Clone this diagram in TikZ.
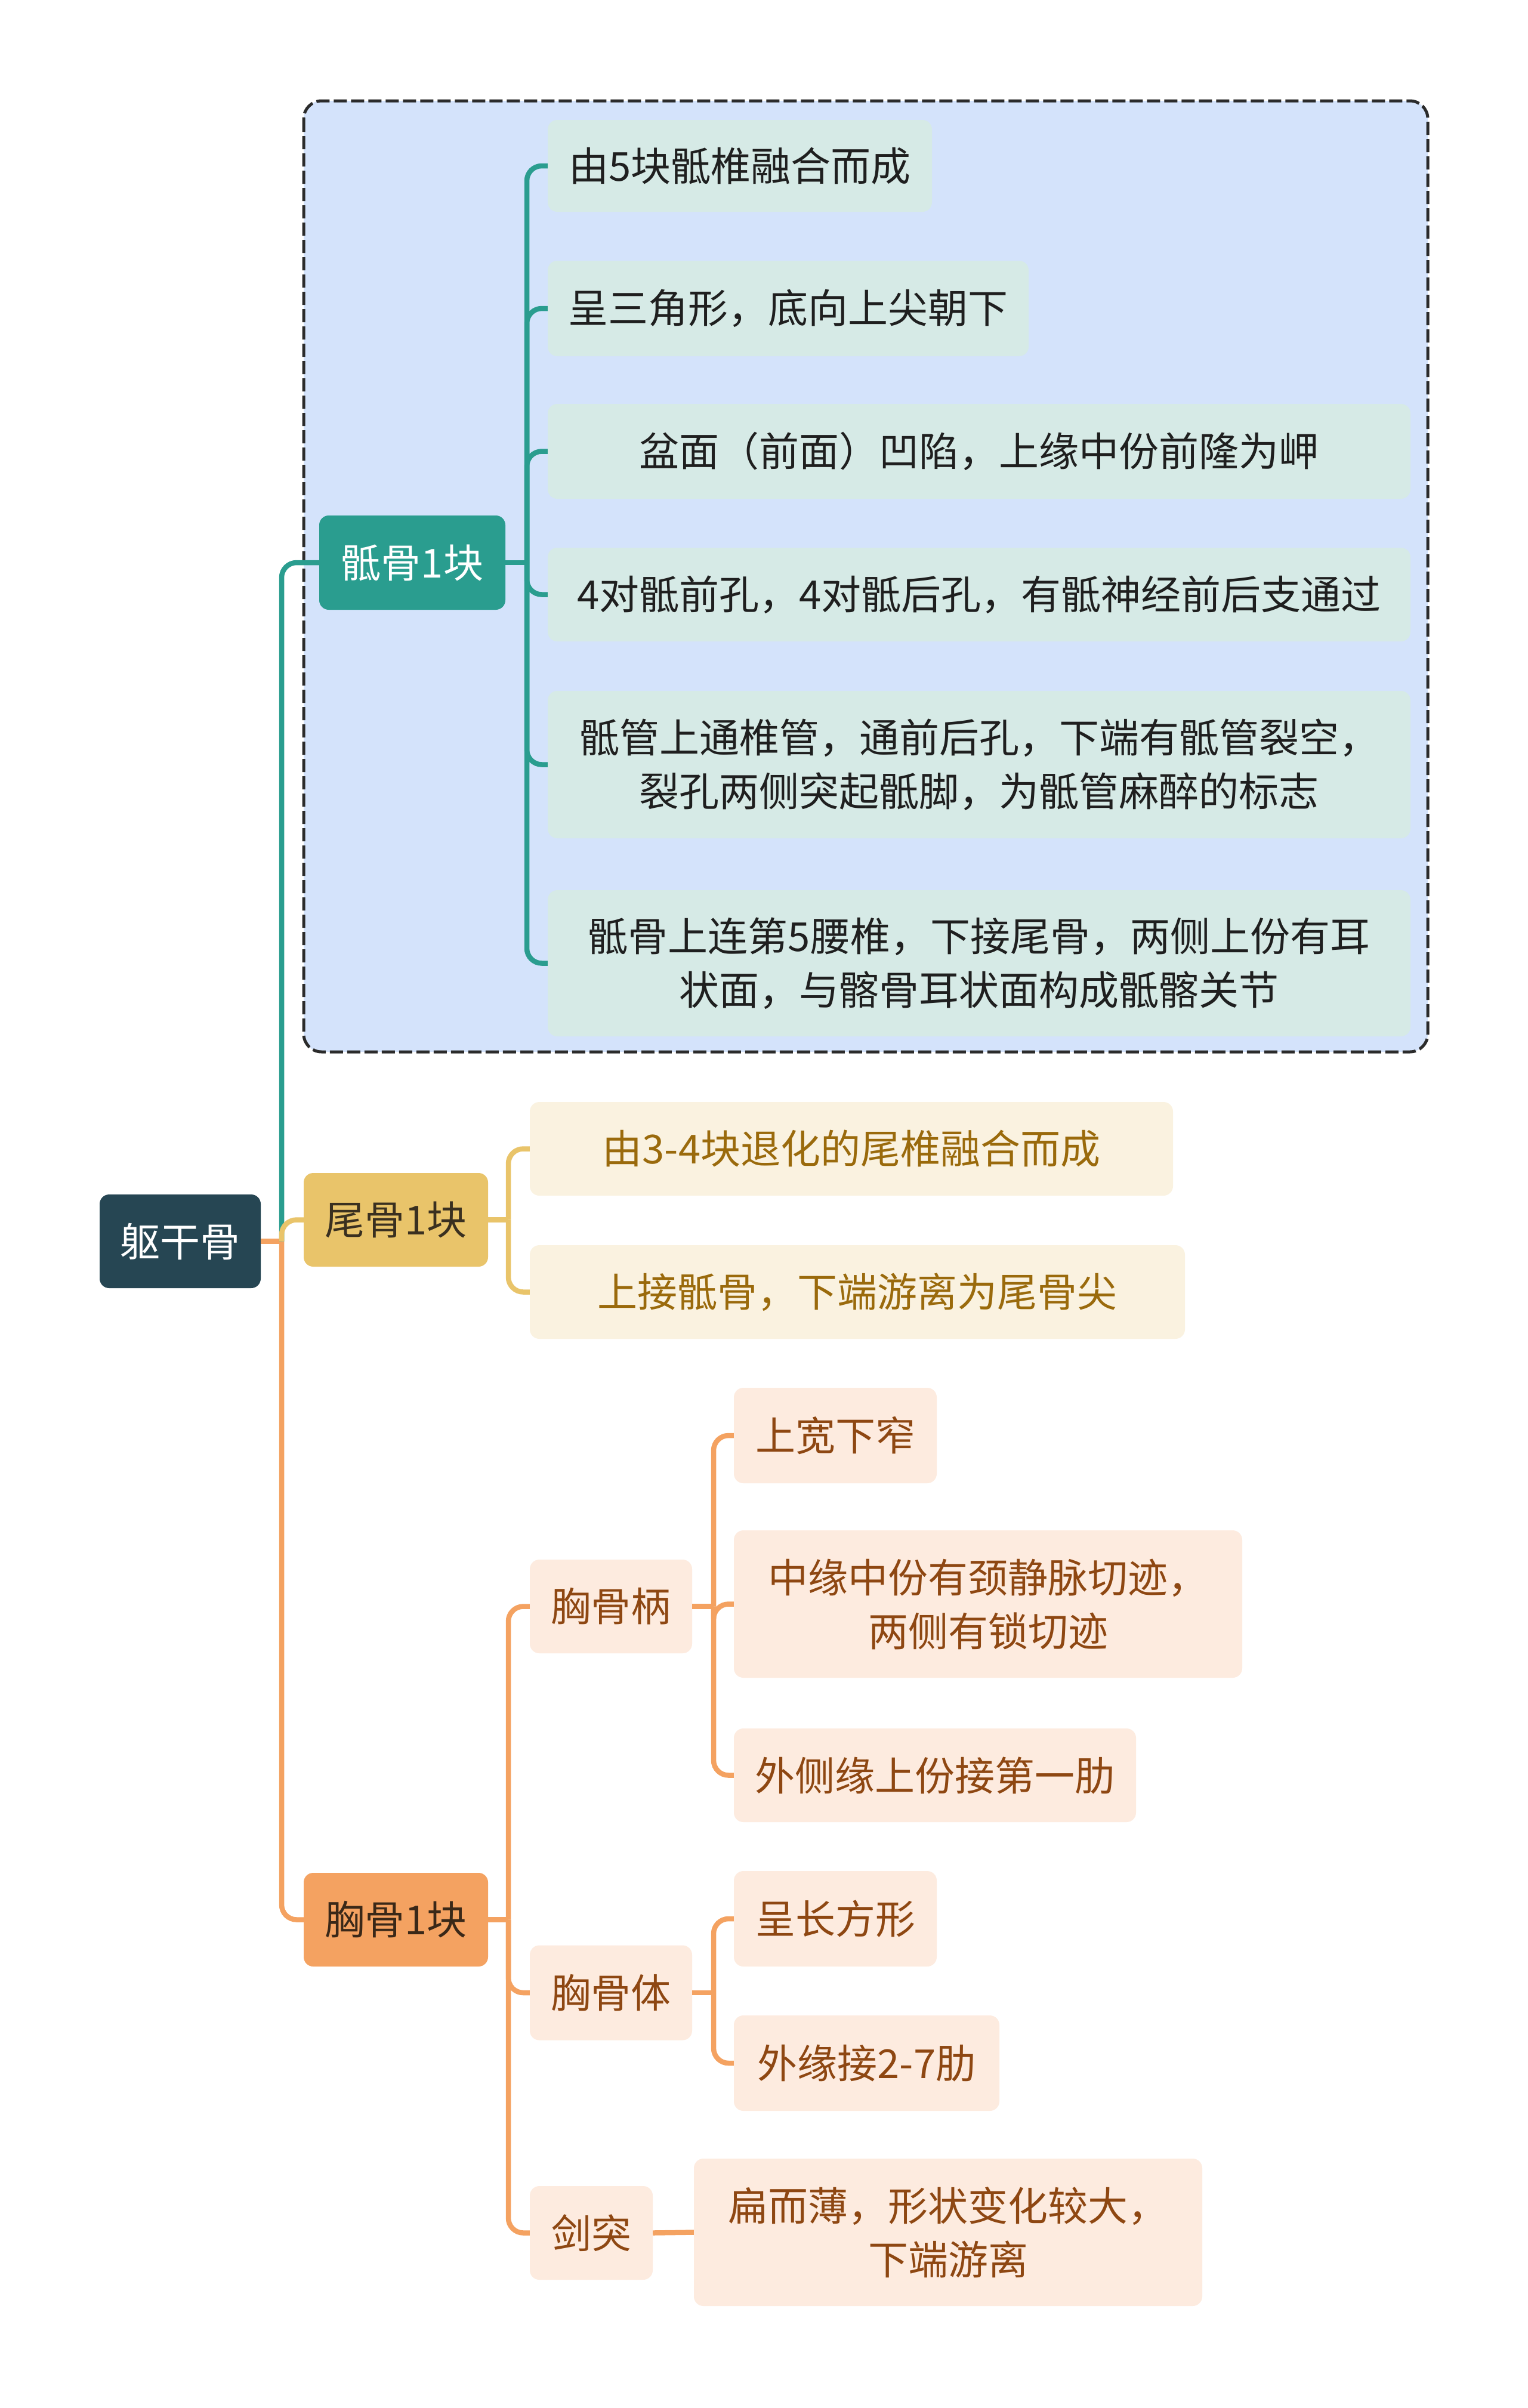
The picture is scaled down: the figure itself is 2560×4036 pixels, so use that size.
\documentclass[tikz,border=0pt]{standalone}
\usepackage{fontspec}
\setmainfont{Noto Sans CJK SC}
\newcommand\myfsz{\fontsize{67}{90}\selectfont}
\definecolor{rootc}{HTML}{264653}
\definecolor{teal1}{HTML}{2A9D8F}
\definecolor{yel}{HTML}{E9C46A}
\definecolor{ora}{HTML}{F4A261}
\definecolor{grpfill}{HTML}{D4E3FB}
\definecolor{grpline}{HTML}{2B2B2B}
\definecolor{sleafc}{HTML}{D6EAE6}
\definecolor{cleafc}{HTML}{FAF2E0}
\definecolor{oleafc}{HTML}{FDEBDF}
\definecolor{ctext}{HTML}{9A6A0C}
\definecolor{otext}{HTML}{8E4712}
\definecolor{cocdark}{HTML}{3A3020}
\definecolor{stedark}{HTML}{3A2818}
\tikzset{
  nb/.style={rounded corners=16pt, inner sep=0pt, align=center, font=\myfsz},
  sz/.style 2 args={minimum width=#1pt, minimum height=#2pt},
  rootn/.style={nb, fill=rootc, text=white},
  sacn/.style={nb, fill=teal1, text=white},
  cocn/.style={nb, fill=yel, text=cocdark},
  sten/.style={nb, fill=ora, text=stedark},
  sleaf/.style={nb, fill=sleafc, text=black!88},
  cleaf/.style={nb, fill=cleafc, text=ctext},
  oleaf/.style={nb, fill=oleafc, text=otext},
  lt/.style={draw=teal1, line width=8.5pt, rounded corners=25pt},
  ly/.style={draw=yel, line width=8.5pt, rounded corners=25pt},
  lo/.style={draw=ora, line width=8.5pt, rounded corners=25pt},
  grp/.style={draw=grpline, fill=grpfill, line width=5pt, dash pattern=on 22pt off 7pt, rounded corners=30pt}
}
\begin{document}
\begin{tikzpicture}[x=1pt,y=-1pt]
\useasboundingbox (0,0) rectangle (2560,4036);
\fill[white] (0,0) rectangle (2560,4036);
% group box
\draw[grp] (509,169) rectangle (2393,1763);
% level 0/1
\node[rootn, sz={270}{157}] (root) at (302,2080.5) {躯干骨};
\node[sacn, sz={312}{158}] (sac) at (691,943) {骶骨1块};
\node[cocn, sz={309}{157}] (coc) at (663.5,2044.5) {尾骨1块};
\node[sten, sz={309}{157}] (ste) at (663.5,3217.5) {胸骨1块};
% sacrum leaves
\node[sleaf, sz={644}{154}] (s1) at (1240,278) {由5块骶椎融合而成};
\node[sleaf, sz={806}{160}] (s2) at (1321,517) {呈三角形，底向上尖朝下};
\node[sleaf, sz={1446}{159}] (s3) at (1641,756.5) {盆面（前面）凹陷，上缘中份前隆为岬};
\node[sleaf, sz={1446}{157}] (s4) at (1641,996.5) {4对骶前孔，4对骶后孔，有骶神经前后支通过};
\node[sleaf, sz={1446}{247}] (s5) at (1641,1281.5) {骶管上通椎管，通前后孔，下端有骶管裂空，\\裂孔两侧突起骶脚，为骶管麻醉的标志};
\node[sleaf, sz={1446}{245}] (s6) at (1641,1614.5) {骶骨上连第5腰椎，下接尾骨，两侧上份有耳\\状面，与髂骨耳状面构成骶髂关节};
% coccyx leaves
\node[cleaf, sz={1078}{157}] (c1) at (1427,1925.5) {由3-4块退化的尾椎融合而成};
\node[cleaf, sz={1098}{157}] (c2) at (1437,2165.5) {上接骶骨，下端游离为尾骨尖};
% sternum level 2
\node[oleaf, sz={272}{157}] (m) at (1024,2692.5) {胸骨柄};
\node[oleaf, sz={272}{159}] (b) at (1024,3340) {胸骨体};
\node[oleaf, sz={206}{157}] (xp) at (991,3742.5) {剑突};
% sternum level 3
\node[oleaf, sz={340}{160}] (m1) at (1400,2406) {上宽下窄};
\node[oleaf, sz={852}{247}] (m2) at (1656,2688.5) {中缘中份有颈静脉切迹，\\两侧有锁切迹};
\node[oleaf, sz={674}{157}] (m3) at (1567,2975.5) {外侧缘上份接第一肋};
\node[oleaf, sz={340}{160}] (b1) at (1400,3216) {呈长方形};
\node[oleaf, sz={445}{160}] (b2) at (1452.5,3458) {外缘接2-7肋};
\node[oleaf, sz={852}{247}] (x1) at (1589,3741.5) {扁而薄，形状变化较大，\\下端游离};
% root connectors
\coordinate (rj) at (472,2080.5);
\draw[lo] (root.east) -- (rj);
\draw[lo] (rj) |- (ste.west);
\draw[lt] (rj) |- (sac.west);
\draw[ly] (rj) |- (coc.west);
% sacrum connectors
\coordinate (sj) at (883,943);
\draw[lt] (sac.east) -- (sj);
\foreach \c in {s1,s2,s3,s4,s5,s6} \draw[lt] (sj) |- (\c.west);
% coccyx connectors
\coordinate (cj) at (852,2044.5);
\draw[ly] (coc.east) -- (cj);
\foreach \c in {c1,c2} \draw[ly] (cj) |- (\c.west);
% sternum connectors
\coordinate (tj) at (852,3217.5);
\draw[lo] (ste.east) -- (tj);
\foreach \c in {m,b,xp} \draw[lo] (tj) |- (\c.west);
\coordinate (mj) at (1196,2692.5);
\draw[lo] (m.east) -- (mj);
\foreach \c in {m1,m2,m3} \draw[lo] (mj) |- (\c.west);
\coordinate (bj) at (1196,3340);
\draw[lo] (b.east) -- (bj);
\foreach \c in {b1,b2} \draw[lo] (bj) |- (\c.west);
\draw[lo] (xp.east) -- (x1.west);
\end{tikzpicture}
\end{document}
